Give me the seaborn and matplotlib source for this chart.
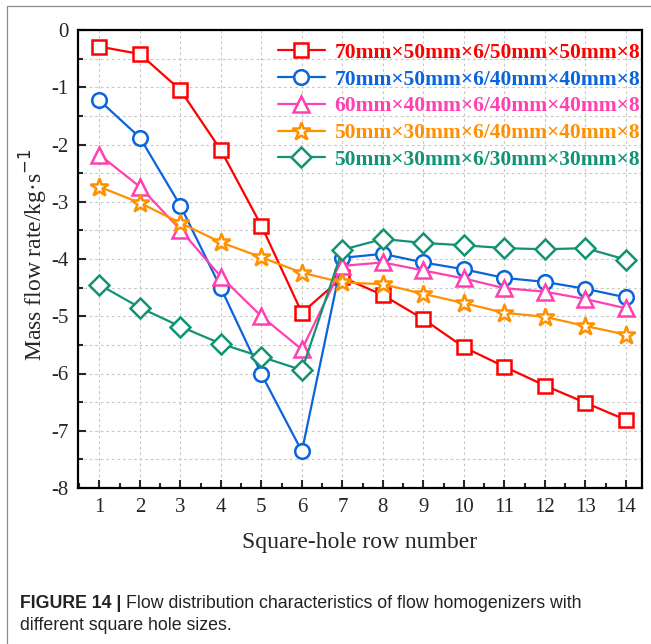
import numpy as np
import pandas as pd
import matplotlib
matplotlib.use('Agg')
import matplotlib.pyplot as plt
from matplotlib.lines import Line2D
from matplotlib.ticker import MultipleLocator
import seaborn as sns

# Data
rows = list(range(1, 15))
case_labels = [
    '70mm×50mm×6/50mm×50mm×8',
    '70mm×50mm×6/40mm×40mm×8',
    '60mm×40mm×6/40mm×40mm×8',
    '50mm×30mm×6/40mm×40mm×8',
    '50mm×30mm×6/30mm×30mm×8',
]
flow_70x50_50 = [-0.29, -0.42, -1.05, -2.10, -3.42, -4.94, -4.32, -4.63, -5.05, -5.54, -5.88, -6.21, -6.51, -6.81]
flow_70x50_40 = [-1.23, -1.88, -3.07, -4.51, -6.01, -7.36, -3.98, -3.91, -4.06, -4.18, -4.33, -4.40, -4.52, -4.67]
flow_60x40_40 = [-2.18, -2.74, -3.49, -4.31, -5.00, -5.58, -4.12, -4.06, -4.20, -4.34, -4.51, -4.57, -4.70, -4.86]
flow_50x30_40 = [-2.74, -3.02, -3.37, -3.71, -3.97, -4.24, -4.41, -4.44, -4.61, -4.77, -4.94, -5.01, -5.17, -5.32]
flow_50x30_30 = [-4.45, -4.85, -5.18, -5.48, -5.71, -5.94, -3.84, -3.65, -3.72, -3.76, -3.81, -3.83, -3.81, -4.01]

colors = ['#ff0000', '#0a64dc', '#ff40b0', '#ff9000', '#109473']
markers = ['s', 'o', '^', '*', 'D']
msizes = [9.5, 10.5, 11.5, 13.5, 10.5]

series = [flow_70x50_50, flow_70x50_40, flow_60x40_40, flow_50x30_40, flow_50x30_30]
df = pd.concat([
    pd.DataFrame({'row': rows, 'flow': vals, 'case': lab})
    for lab, vals in zip(case_labels, series)
], ignore_index=True)

sns.set_style('ticks')
plt.rcParams['font.family'] = ['Liberation Serif', 'DejaVu Serif']
plt.rcParams['axes.unicode_minus'] = False

fig = plt.figure(figsize=(6.51, 6.44), dpi=100)
ax = fig.add_axes([78 / 651, 1 - 488 / 644, 564 / 651, 458 / 644])

for lab, c, m, ms in zip(case_labels, colors, markers, msizes):
    sub = df[df['case'] == lab]
    sns.lineplot(data=sub, x='row', y='flow', ax=ax, color=c, label=lab,
                 marker=m, markersize=ms, markerfacecolor='white',
                 markeredgecolor=c, markeredgewidth=1.8, linewidth=1.6,
                 zorder=3)

ax.set_xlim(0.47, 14.4)
ax.set_ylim(-8, 0)
ax.xaxis.set_major_locator(MultipleLocator(1))
ax.xaxis.set_minor_locator(MultipleLocator(0.5))
ax.yaxis.set_major_locator(MultipleLocator(1))
ax.yaxis.set_minor_locator(MultipleLocator(0.5))

# grid: vertical at integers, horizontal every 0.5
ax.grid(which='major', axis='x', color='#c8c8c8', linestyle=(0, (2.5, 2.5)), linewidth=0.8)
ax.grid(which='both', axis='y', color='#c8c8c8', linestyle=(0, (2.5, 2.5)), linewidth=0.8)
ax.set_axisbelow(True)

ax.tick_params(which='major', direction='in', length=6, width=1.5, labelsize=15,
               pad=7, top=False, right=False)
ax.tick_params(which='minor', direction='in', length=3.5, width=1.5, top=False, right=False)
for sp in ax.spines.values():
    sp.set_linewidth(1.6)
    sp.set_color('black')

ax.set_xlabel('Square-hole row number', fontsize=17)
ax.set_ylabel('Mass flow rate/kg·s$^{-1}$', fontsize=17)
ax.xaxis.set_label_coords(0.5, -0.097)
ax.yaxis.set_label_coords(-0.05, 0.51)

leg = ax.legend(loc='upper right', bbox_to_anchor=(1.02, 1.0), frameon=False,
                prop={'family': 'Liberation Serif', 'weight': 'bold', 'size': 15.5},
                labelcolor='linecolor', handlelength=2.2, handletextpad=0.45,
                labelspacing=0.31, borderaxespad=0.2)

# caption below the chart
renderer = fig.canvas.get_renderer()
cap_font = ['Liberation Sans Narrow', 'Liberation Sans']
t1 = fig.text(20 / 651, 1 - 603 / 644, 'FIGURE 14 | ', fontsize=12.8, fontweight='bold',
              family=cap_font, va='center', ha='left', color='#222222')
bb = t1.get_window_extent(renderer=renderer)
fig.text(bb.x1 / fig.bbox.width, 1 - 603 / 644,
         'Flow distribution characteristics of flow homogenizers with',
         fontsize=12.8, family=cap_font, va='center', ha='left', color='#222222')
fig.text(20 / 651, 1 - 626 / 644, 'different square hole sizes.', fontsize=12.8,
         family=cap_font, va='center', ha='left', color='#222222')

# thin page border seen on the left and top of the screenshot
fig.add_artist(Line2D([7 / 651, 7 / 651], [0, 1 - 6 / 644], transform=fig.transFigure,
                      color='#8a8a8a', linewidth=0.9))
fig.add_artist(Line2D([7 / 651, 1], [1 - 6 / 644, 1 - 6 / 644], transform=fig.transFigure,
                      color='#8a8a8a', linewidth=0.9))

fig.savefig('out.png', dpi=100)
